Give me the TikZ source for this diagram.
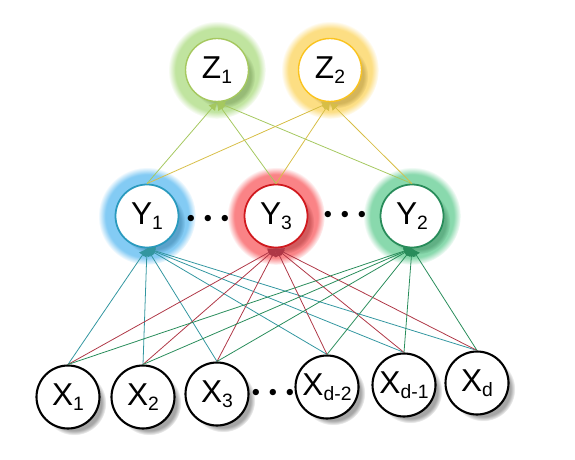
\documentclass[tikz,border=0pt]{standalone}
\usepackage{fontspec}
\setmainfont{Liberation Sans}
\usetikzlibrary{arrows.meta,shadows}

\definecolor{glowzone}{RGB}{140,205,80}
\definecolor{glowztwo}{RGB}{250,195,30}
\definecolor{glowyone}{RGB}{30,160,235}
\definecolor{glowythree}{RGB}{245,30,35}
\definecolor{glowytwo}{RGB}{40,185,105}
\definecolor{linezone}{RGB}{165,200,95}
\definecolor{lineztwo}{RGB}{215,190,70}
\definecolor{lineyone}{RGB}{50,150,160}
\definecolor{lineythree}{RGB}{175,55,70}
\definecolor{lineytwo}{RGB}{40,140,90}

\newcommand{\lowidx}[1]{{\fontsize{11}{12}\selectfont\raisebox{-0.45ex}{#1}}}

\begin{document}
\begin{tikzpicture}[
  unit/.style={draw, circle, fill=white, minimum size=1.26cm, inner sep=0pt,
    font=\fontsize{18}{20}\selectfont,
    circular drop shadow={fill=black!35, shadow xshift=0.12cm, shadow yshift=-0.12cm, shadow scale=1.02}},
  glowing/.style={circular glow={fill=#1, shadow scale=1.55, opacity=0.55}},
  xunit/.style={unit, line width=1.2pt},
  link/.style={line width=0.45pt, -{Latex[length=4.5pt,width=5pt]}},
  dots/.style={font=\fontsize{9}{9}\selectfont, inner sep=0pt}
]
\useasboundingbox (0,0) rectangle (11.5,9.18);

\node[unit, glowing=glowzone, draw=linezone, line width=0.8pt] (z1) at (4.34,7.78) {Z\lowidx{1}};
\node[unit, glowing=glowztwo, draw=glowztwo, line width=0.8pt] (z2) at (6.60,7.78) {Z\lowidx{2}};

\node[unit, glowing=glowyone, draw=lineyone!60!glowyone, line width=1pt] (y1) at (2.94,4.86) {Y\lowidx{1}};
\node[unit, glowing=glowythree, draw=glowythree!85!black, line width=1pt] (y3) at (5.52,4.86) {Y\lowidx{3}};
\node[unit, glowing=glowytwo, draw=lineytwo, line width=1pt] (y2) at (8.24,4.86) {Y\lowidx{2}};

\node[xunit] (x1) at (1.36,1.24) {X\lowidx{1}};
\node[xunit] (x2) at (2.86,1.24) {X\lowidx{2}};
\node[xunit] (x3) at (4.34,1.30) {X\lowidx{3}};
\node[xunit] (x4) at (6.54,1.44) {X\lowidx{d-2}};
\node[xunit] (x5) at (8.08,1.48) {X\lowidx{d-1}};
\node[xunit] (x6) at (9.54,1.52) {X\lowidx{d}};

\node[dots] (dy1) at (4.16,4.80) {$\bullet\hspace{3pt}\bullet\hspace{3pt}\bullet$};
\node[dots] (dy2) at (6.90,4.88) {$\bullet\hspace{3pt}\bullet\hspace{3pt}\bullet$};
\node[dots] (dx) at (5.46,1.32) {$\bullet\hspace{3pt}\bullet\hspace{3pt}\bullet$};

% hidden layer to output
\path[draw=linezone,link] (y1.north) -- (z1.south);
\path[draw=linezone,link] (y3.north) -- (z1.south);
\path[draw=linezone,link] (y2.north) -- (z1.south);
\path[draw=lineztwo,link] (y1.north) -- (z2.south);
\path[draw=lineztwo,link] (y3.north) -- (z2.south);
\path[draw=lineztwo,link] (y2.north) -- (z2.south);

% input to hidden layer
\path[draw=lineyone,link] (x1.north) -- (y1.south);
\path[draw=lineyone,link] (x2.north) -- (y1.south);
\path[draw=lineyone,link] (x3.north) -- (y1.south);
\path[draw=lineyone,link] (x4.north) -- (y1.south);
\path[draw=lineyone,link] (x5.north) -- (y1.south);
\path[draw=lineyone,link] (x6.north) -- (y1.south);

\path[draw=lineythree,link] (x1.north) -- (y3.south);
\path[draw=lineythree,link] (x2.north) -- (y3.south);
\path[draw=lineythree,link] (x3.north) -- (y3.south);
\path[draw=lineythree,link] (x4.north) -- (y3.south);
\path[draw=lineythree,link] (x5.north) -- (y3.south);
\path[draw=lineythree,link] (x6.north) -- (y3.south);

\path[draw=lineytwo,link] (x1.north) -- (y2.south);
\path[draw=lineytwo,link] (x2.north) -- (y2.south);
\path[draw=lineytwo,link] (x3.north) -- (y2.south);
\path[draw=lineytwo,link] (x4.north) -- (y2.south);
\path[draw=lineytwo,link] (x5.north) -- (y2.south);
\path[draw=lineytwo,link] (x6.north) -- (y2.south);

\end{tikzpicture}
\end{document}
